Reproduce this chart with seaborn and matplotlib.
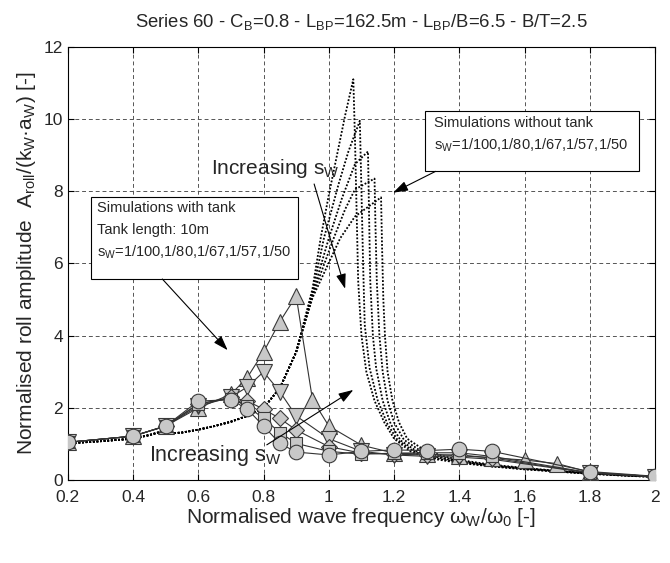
import numpy as np
import pandas as pd
import matplotlib.pyplot as plt
from matplotlib.patches import Rectangle
import seaborn as sns

sns.set_style("whitegrid")
plt.rcParams['font.family'] = ['Liberation Sans', 'DejaVu Sans']
plt.rcParams['mathtext.fontset'] = 'custom'
plt.rcParams['mathtext.rm'] = 'Liberation Sans'
plt.rcParams['mathtext.it'] = 'Liberation Sans:italic'

# --- simulations without tank (dotted), common low-frequency branch
rise_x = [0.2, 0.3, 0.4, 0.45, 0.5, 0.52, 0.55, 0.6, 0.65, 0.7, 0.75, 0.8, 0.85, 0.9]
rise_y = [1.02, 1.08, 1.15, 1.25, 1.38, 1.3, 1.32, 1.4, 1.5, 1.62, 1.78, 2.0, 2.55, 3.55]

# resonance branches, one per wave steepness
notank_a_x = [0.95, 0.975, 1.0, 1.025, 1.05, 1.075, 1.08, 1.085, 1.09, 1.10, 1.115, 1.14, 1.17, 1.2, 1.25, 1.3, 1.35, 1.4, 1.5, 1.6, 1.7, 1.8, 1.9, 2.0]
notank_a_y = [5.3, 6.7, 7.9, 9.0, 10.1, 11.1, 9.5, 7.5, 5.5, 4.0, 3.0, 2.2, 1.6, 1.15, 0.8, 0.62, 0.55, 0.48, 0.38, 0.3, 0.24, 0.18, 0.13, 0.09]
notank_b_x = [0.95, 0.985, 1.0, 1.03, 1.06, 1.095, 1.1, 1.105, 1.11, 1.125, 1.15, 1.18, 1.21, 1.26, 1.3, 1.35, 1.4, 1.5, 1.6, 1.7, 1.8, 1.9, 2.0]
notank_b_y = [5.2, 6.7, 7.2, 8.2, 9.1, 9.95, 8.0, 6.0, 4.3, 3.1, 2.2, 1.55, 1.12, 0.8, 0.66, 0.57, 0.5, 0.39, 0.31, 0.24, 0.18, 0.13, 0.09]
notank_c_x = [0.95, 1.0, 1.04, 1.08, 1.12, 1.123, 1.127, 1.135, 1.145, 1.165, 1.19, 1.22, 1.27, 1.3, 1.35, 1.4, 1.5, 1.6, 1.7, 1.8, 1.9, 2.0]
notank_c_y = [5.15, 6.7, 7.8, 8.75, 9.1, 7.5, 5.5, 4.0, 3.1, 2.2, 1.55, 1.1, 0.8, 0.7, 0.6, 0.52, 0.4, 0.32, 0.25, 0.19, 0.14, 0.1]
notank_d_x = [0.95, 1.015, 1.05, 1.08, 1.14, 1.143, 1.147, 1.155, 1.165, 1.18, 1.2, 1.23, 1.28, 1.3, 1.35, 1.4, 1.5, 1.6, 1.7, 1.8, 1.9, 2.0]
notank_d_y = [5.1, 6.7, 7.5, 8.05, 8.35, 7.0, 5.5, 4.0, 3.0, 2.2, 1.6, 1.12, 0.82, 0.75, 0.63, 0.54, 0.41, 0.33, 0.25, 0.19, 0.14, 0.1]
notank_e_x = [0.95, 1.035, 1.08, 1.16, 1.163, 1.167, 1.172, 1.18, 1.195, 1.215, 1.24, 1.29, 1.35, 1.4, 1.5, 1.6, 1.7, 1.8, 1.9, 2.0]
notank_e_y = [5.05, 6.7, 7.3, 7.83, 6.5, 5.0, 4.0, 3.0, 2.2, 1.6, 1.15, 0.85, 0.67, 0.56, 0.43, 0.34, 0.26, 0.2, 0.14, 0.1]

# --- simulations with tank (markers)
tank_up_x = [0.2, 0.4, 0.5, 0.6, 0.7, 0.75, 0.8, 0.85, 0.9, 0.95, 1.0, 1.1, 1.2, 1.3, 1.4, 1.5, 1.6, 1.7, 1.8, 2.0]
tank_up_y = [1.05, 1.22, 1.5, 2.0, 2.38, 2.84, 3.55, 4.39, 5.1, 2.23, 1.5, 0.97, 0.75, 0.72, 0.68, 0.62, 0.56, 0.46, 0.22, 0.1]
tank_x = [0.2, 0.4, 0.5, 0.6, 0.7, 0.75, 0.8, 0.85, 0.9, 1.0, 1.1, 1.2, 1.3, 1.4, 1.5, 1.8, 2.0]
tank_down_y = [1.05, 1.22, 1.5, 2.05, 2.3, 2.58, 3.0, 2.45, 1.78, 1.15, 0.8, 0.7, 0.66, 0.64, 0.58, 0.2, 0.1]
tank_diamond_y = [1.05, 1.22, 1.5, 2.1, 2.3, 2.19, 1.97, 1.71, 1.39, 0.93, 0.75, 0.72, 0.7, 0.7, 0.62, 0.2, 0.1]
tank_square_y = [1.05, 1.22, 1.5, 2.12, 2.26, 2.05, 1.71, 1.32, 1.02, 0.8, 0.72, 0.75, 0.76, 0.76, 0.66, 0.21, 0.1]
tank_circle_y = [1.05, 1.22, 1.5, 2.19, 2.23, 1.97, 1.5, 1.02, 0.78, 0.7, 0.8, 0.84, 0.82, 0.86, 0.8, 0.24, 0.11]

x_ticks = [0.2, 0.4, 0.6, 0.8, 1.0, 1.2, 1.4, 1.6, 1.8, 2.0]
y_ticks = [0, 2, 4, 6, 8, 10, 12]

fig = plt.figure(figsize=(6.7, 5.63), dpi=100)
ax = fig.add_axes([0.101, 0.147, 0.877, 0.77])

notank = [(notank_a_x, notank_a_y), (notank_b_x, notank_b_y), (notank_c_x, notank_c_y),
          (notank_d_x, notank_d_y), (notank_e_x, notank_e_y)]
for cx, cy in notank:
    df = pd.DataFrame({'x': rise_x + cx, 'y': rise_y + cy})
    sns.lineplot(data=df, x='x', y='y', sort=False, estimator=None, color='black',
                 linestyle=(0, (1, 1)), lw=1.3, ax=ax, zorder=3)

mk = dict(markerfacecolor='#c8c8c8', markeredgecolor='#3a3a3a', markeredgewidth=0.8,
          color='#333333', lw=0.8, zorder=4)
sns.lineplot(x=tank_up_x, y=tank_up_y, marker='^', markersize=11, ax=ax, **mk)
sns.lineplot(x=tank_x, y=tank_down_y, marker='v', markersize=11, ax=ax, **mk)
sns.lineplot(x=tank_x, y=tank_diamond_y, marker='D', markersize=8, ax=ax, **mk)
sns.lineplot(x=tank_x, y=tank_square_y, marker='s', markersize=8.5, ax=ax, **mk)
sns.lineplot(x=tank_x, y=tank_circle_y, marker='o', markersize=10.5, ax=ax, **mk)

ax.set_xlim(0.2, 2.0)
ax.set_ylim(0, 12)
ax.set_xticks(x_ticks)
ax.set_xticklabels(['%g' % v for v in x_ticks])
ax.set_yticks(y_ticks)
ax.tick_params(labelsize=12.5, direction='in', length=4, bottom=True, left=True,
               top=True, right=True, color='black')
ax.tick_params(axis='x', pad=7)
ax.grid(True, linestyle=(0, (4, 3)), color='#555555', lw=0.7)
for s in ax.spines.values():
    s.set_color('black')
    s.set_linewidth(0.8)

ax.set_xlabel('Normalised wave frequency ω$_\\mathrm{W}$/ω$_0$ [-]', fontsize=15, labelpad=1)
ax.set_ylabel('Normalised roll amplitude  A$_\\mathrm{roll}$/(k$_\\mathrm{W}$·a$_\\mathrm{W}$) [-]',
              fontsize=15, labelpad=4)
ax.set_title('Series 60 - C$_\\mathrm{B}$=0.8 - L$_\\mathrm{BP}$=162.5m - L$_\\mathrm{BP}$/B=6.5 - B/T=2.5',
             fontsize=13.3, pad=14)

# annotation boxes
ax.add_patch(Rectangle((0.27, 5.57), 0.635, 2.28, facecolor='white', edgecolor='black',
                       lw=0.8, zorder=6))
ax.text(0.29, 7.54, 'Simulations with tank', fontsize=10.5, va='center', zorder=7)
ax.text(0.29, 6.94, 'Tank length: 10m', fontsize=10.5, va='center', zorder=7)
ax.text(0.29, 6.3, 's$_\\mathrm{W}$=1/100,1/80,1/67,1/57,1/50', fontsize=10.5, va='center', zorder=7)

ax.add_patch(Rectangle((1.294, 8.55), 0.656, 1.66, facecolor='white', edgecolor='black',
                       lw=0.8, zorder=6))
ax.text(1.322, 9.9, 'Simulations without tank', fontsize=10.5, va='center', zorder=7)
ax.text(1.322, 9.28, 's$_\\mathrm{W}$=1/100,1/80,1/67,1/57,1/50', fontsize=10.5, va='center', zorder=7)

ax.text(0.64, 8.62, 'Increasing s$_\\mathrm{W}$', fontsize=15, va='center', ha='left', zorder=7)
ax.text(0.45, 0.68, 'Increasing s$_\\mathrm{W}$', fontsize=15.5, va='center', ha='left', zorder=7)

arrow = dict(arrowstyle='-|>,head_length=0.9,head_width=0.3', color='black', lw=0.8,
             shrinkA=0, shrinkB=0)
ax.annotate('', xy=(0.69, 3.6), xytext=(0.49, 5.57), arrowprops=arrow, zorder=6)
ax.annotate('', xy=(1.197, 7.96), xytext=(1.327, 8.55), arrowprops=arrow, zorder=6)
ax.annotate('', xy=(1.05, 5.3), xytext=(0.955, 8.2), arrowprops=arrow, zorder=6)
ax.annotate('', xy=(1.075, 2.5), xytext=(0.81, 0.98), arrowprops=arrow, zorder=6)

plt.savefig('out.png')
plt.close()
